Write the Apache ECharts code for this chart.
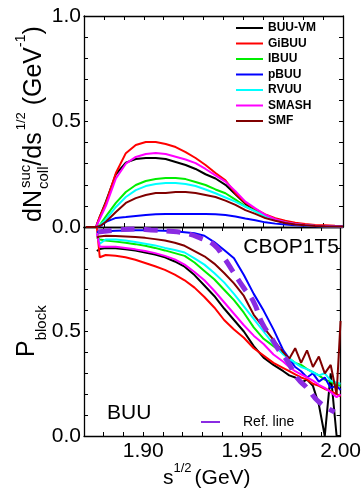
<!DOCTYPE html>
<html>
<head>
<meta charset="utf-8">
<script src="https://cdn.jsdelivr.net/npm/echarts@6/dist/echarts.min.js"></script>
<style>
html,body{margin:0;padding:0;background:#fff;}
#chart{width:364px;height:490px;}
</style>
</head>
<body>
<div id="chart"></div>
<script>
// ---------- data ----------
const seriesNames = ['BUU-VM','GiBUU','IBUU','pBUU','RVUU','SMASH','SMF'];
const seriesColors = ['#000000','#ff0000','#00ee00','#0000ff','#00ffff','#ff00ff','#800000'];

// top panel: dN/ds^1/2
const xTop = [1.871,1.876,1.878,1.881,1.886,1.891,1.896,1.901,1.906,1.911,1.916,1.921,1.926,1.931,1.936,1.941,1.946,1.951,1.956,1.961,1.966,1.971,1.976,1.981,1.986,1.991,1.996,2.000];
const buuvmTop = [0,0,0.05,0.12,0.25,0.305,0.322,0.327,0.327,0.322,0.308,0.294,0.275,0.25,0.23,0.2,0.155,0.11,0.08,0.05,0.033,0.02,0.012,0.007,0.004,0.003,0.002,0.002];
const gibuuTop = [0,0,0.05,0.114,0.256,0.35,0.389,0.403,0.403,0.393,0.379,0.355,0.327,0.294,0.256,0.221,0.16,0.115,0.085,0.06,0.042,0.03,0.02,0.014,0.01,0.008,0.006,0.005];
const ibuuTop = [0,0,0.01,0.05,0.114,0.166,0.199,0.218,0.227,0.232,0.232,0.227,0.213,0.199,0.178,0.16,0.13,0.098,0.075,0.052,0.034,0.022,0.013,0.008,0.005,0.003,0.002,0.002];
const pbuuTop = [0,0,0.003,0.024,0.043,0.047,0.052,0.057,0.06,0.062,0.062,0.062,0.062,0.062,0.06,0.057,0.05,0.04,0.032,0.022,0.016,0.012,0.008,0.006,0.004,0.003,0.002,0.002];
const rvuuTop = [0,0,0.008,0.035,0.095,0.142,0.175,0.194,0.204,0.208,0.208,0.204,0.194,0.178,0.16,0.14,0.12,0.096,0.074,0.052,0.034,0.022,0.013,0.008,0.005,0.003,0.002,0.002];
const smashTop = [0,0,0.04,0.1,0.23,0.3,0.332,0.346,0.351,0.346,0.333,0.32,0.303,0.275,0.245,0.215,0.17,0.12,0.088,0.058,0.037,0.023,0.014,0.009,0.006,0.004,0.003,0.002];
const smfTop = [0,0,0.005,0.025,0.071,0.114,0.137,0.152,0.161,0.161,0.166,0.166,0.161,0.152,0.142,0.125,0.105,0.08,0.062,0.042,0.03,0.019,0.012,0.008,0.005,0.003,0.002,0.002];

// bottom panel: P_block
const xBot = [1.8765,1.878,1.881,1.886,1.891,1.896,1.901,1.906,1.911,1.916,1.921,1.926,1.931,1.936,1.941,1.946,1.951,1.956,1.961,1.966,1.971,1.974,1.977,1.980,1.983,1.986,1.989,1.992,1.995,1.998,2.000];
const buuvmBot = [0.885,0.895,0.9,0.898,0.893,0.887,0.878,0.868,0.855,0.835,0.81,0.77,0.72,0.67,0.61,0.555,0.5,0.43,0.375,0.34,0.31,0.29,0.28,0.255,0.27,0.24,0.15,0.0,0.3,0.0,0.0];
const gibuuBot = [1.0,0.855,0.866,0.862,0.855,0.843,0.828,0.812,0.795,0.772,0.745,0.71,0.665,0.615,0.555,0.51,0.47,0.42,0.385,0.35,0.325,0.31,0.295,0.28,0.27,0.25,0.24,0.225,0.215,0.2,0.19];
const ibuuBot = [0.95,0.94,0.935,0.93,0.925,0.918,0.91,0.9,0.888,0.875,0.862,0.83,0.79,0.75,0.7,0.65,0.59,0.52,0.465,0.43,0.395,0.37,0.35,0.34,0.32,0.305,0.29,0.27,0.26,0.245,0.24];
const pbuuBot = [0.975,0.978,0.98,0.982,0.983,0.984,0.984,0.983,0.982,0.98,0.975,0.97,0.958,0.928,0.89,0.85,0.77,0.68,0.6,0.51,0.41,0.37,0.33,0.31,0.28,0.3,0.26,0.28,0.23,0.24,0.22];
const rvuuBot = [0.97,0.92,0.94,0.94,0.935,0.928,0.92,0.912,0.9,0.89,0.878,0.85,0.82,0.78,0.735,0.68,0.62,0.56,0.5,0.44,0.39,0.37,0.35,0.33,0.32,0.305,0.29,0.3,0.265,0.255,0.25];
const smashBot = [0.97,0.905,0.905,0.905,0.9,0.893,0.885,0.875,0.862,0.845,0.82,0.785,0.745,0.695,0.64,0.585,0.53,0.48,0.44,0.39,0.355,0.33,0.31,0.295,0.28,0.265,0.245,0.23,0.21,0.185,0.2];
const smfBot = [0.95,0.955,0.958,0.957,0.955,0.952,0.948,0.942,0.935,0.925,0.91,0.885,0.86,0.825,0.78,0.73,0.67,0.58,0.52,0.46,0.4,0.37,0.42,0.35,0.41,0.33,0.38,0.3,0.34,0.2,0.55];

// reference line
const xRef = [1.877,1.887,1.896,1.904,1.912,1.921,1.929,1.936,1.941,1.945,1.951,1.956,1.960,1.965,1.969,1.973,1.978,1.983,1.989,1.997];
const refLine = [0.976,0.986,0.99,0.986,0.981,0.971,0.947,0.914,0.852,0.794,0.708,0.641,0.545,0.469,0.407,0.36,0.278,0.23,0.163,0.115];

const xTickLabels = ['1.90','1.95','2.00'];
const yTickLabels = ['0.0','0.5','1.0'];

const topData = [buuvmTop,gibuuTop,ibuuTop,pbuuTop,rvuuTop,smashTop,smfTop];
const botData = [buuvmBot,gibuuBot,ibuuBot,pbuuBot,rvuuBot,smashBot,smfBot];

// ---------- layout helpers ----------
const FONT = '"Liberation Sans", Arial, sans-serif';
const cv = document.createElement('canvas').getContext('2d');
function measure(t, size){ cv.font = size + 'px ' + FONT; return cv.measureText(t).width; }
function titleGroup(x, y, rot, pieces){
  let cx = 0; const children = []; let pendW = 0;
  pieces.forEach(p => {
    const w = measure(p.t, p.size);
    children.push({type:'text', x: cx + (p.dx||0), y: p.dy||0,
      style:{text:p.t, font: p.size + 'px ' + FONT, fill:'#000', textAlign:'left', textVerticalAlign:'middle', align:'left', verticalAlign:'middle'}});
    if (p.stack) { pendW = Math.max(pendW, w); }
    else { cx += Math.max(w, pendW) + (p.gap||0); pendW = 0; }
  });
  return {type:'group', x:x, y:y, rotation:rot, children:children, silent:true};
}

const chart = echarts.init(document.getElementById('chart'), null, {renderer:'canvas'});

const axisLineStyle = {lineStyle:{color:'#000', width:1.3}};
const tickStyle = {show:true, inside:true, length:4, lineStyle:{color:'#000', width:1}};
function xAx(grid, pos, labels){
  return {type:'value', gridIndex:grid, position:pos, min:1.87, max:2.0, interval:0.01,
    axisLine:Object.assign({onZero:false}, axisLineStyle), axisTick:tickStyle, splitLine:{show:false},
    axisLabel:{show:labels, margin:5, fontSize:21, fontFamily:FONT, color:'#000',
      formatter: v => { const r = Math.round(v*100); const s = (r/100).toFixed(2); return xTickLabels.indexOf(s) >= 0 ? s : ''; }}};
}
function yAx(grid, pos, labels, allowTop){
  return {type:'value', gridIndex:grid, position:pos, min:0, max:1, interval:0.1,
    axisLine:Object.assign({onZero:false}, axisLineStyle), axisTick:tickStyle, splitLine:{show:false},
    axisLabel:{show:labels, margin:3, fontSize:21, fontFamily:FONT, color:'#000',
      formatter: v => { const r = Math.round(v*10); const s = (r/10).toFixed(1); if (!allowTop && r === 10) return ''; return yTickLabels.indexOf(s) >= 0 ? s : ''; }}};
}

const series = [];
seriesNames.forEach((n, i) => {
  series.push({name:n, type:'line', xAxisIndex:0, yAxisIndex:0, symbol:'none', showSymbol:false,
    data: xTop.map((x, j) => [x, topData[i][j]]), lineStyle:{color:seriesColors[i], width:2}, itemStyle:{color:seriesColors[i]}, z:2+i});
});
seriesNames.forEach((n, i) => {
  series.push({name:n, type:'line', xAxisIndex:2, yAxisIndex:2, symbol:'none', showSymbol:false,
    data: xBot.map((x, j) => [x, botData[i][j]]), lineStyle:{color:seriesColors[i], width:2}, itemStyle:{color:seriesColors[i]}, z:2+i});
});
series.push({name:'Ref. line', type:'line', xAxisIndex:2, yAxisIndex:2, symbol:'none', showSymbol:false, smooth:true,
  data: xRef.map((x, j) => [x, refLine[j]]), lineStyle:{color:'#8a2be2', width:5, type:[14,9]}, itemStyle:{color:'#8a2be2'}, z:20});

const hiddenSymbol = {color:'transparent', borderColor:'transparent', borderWidth:0, opacity:0};
const option = {
  animation:false,
  backgroundColor:'#fff',
  grid:[{left:84, right:21, top:16, height:211}, {left:84, right:21, top:227, height:209}],
  xAxis:[xAx(0,'bottom',false), xAx(0,'top',false), xAx(1,'bottom',true), xAx(1,'top',false)],
  yAxis:[yAx(0,'left',true,true), yAx(0,'right',false,true), yAx(1,'left',true,false), yAx(1,'right',false,false)],
  legend:[
    {data:seriesNames, orient:'vertical', left:230, top:17, padding:5, itemWidth:27, itemHeight:10, itemGap:3.5, selectedMode:false,
      itemStyle:hiddenSymbol,
      textStyle:{fontFamily:FONT, fontSize:12, fontWeight:'bold', color:'#000'}},
    {data:['Ref. line'], orient:'horizontal', left:195, top:410, padding:5, itemWidth:19, itemHeight:10, selectedMode:false,
      itemStyle:hiddenSymbol, lineStyle:{type:'solid'},
      textStyle:{fontFamily:FONT, fontSize:14, color:'#000', padding:[0,0,0,18]}}
  ],
  graphic:[
    titleGroup(34, 222, Math.PI/2, [
      {t:'dN', size:25, gap:1}, {t:'suc', size:15, dy:-8, dx:1, stack:true}, {t:'coll', size:15, dy:9.5},
      {t:'/ds', size:25, gap:2}, {t:'1/2', size:13, dy:-13}, {t:' (GeV', size:25}, {t:'-1', size:14, dy:-13}, {t:')', size:25}
    ]),
    titleGroup(27, 357, Math.PI/2, [{t:'P', size:25}, {t:'block', size:15, dy:15}]),
    titleGroup(163, 478, 0, [{t:'s', size:21}, {t:'1/2', size:13, dy:-10, gap:3}, {t:'(GeV)', size:21}]),
    {type:'text', x:339, y:247, silent:true, style:{text:'CBOP1T5', font:'21px ' + FONT, fill:'#000', textAlign:'right', textVerticalAlign:'middle', align:'right', verticalAlign:'middle'}},
    {type:'text', x:107, y:413, silent:true, style:{text:'BUU', font:'21px ' + FONT, fill:'#000', textAlign:'left', textVerticalAlign:'middle', align:'left', verticalAlign:'middle'}}
  ],
  series:series
};
chart.setOption(option);
</script>
</body>
</html>
